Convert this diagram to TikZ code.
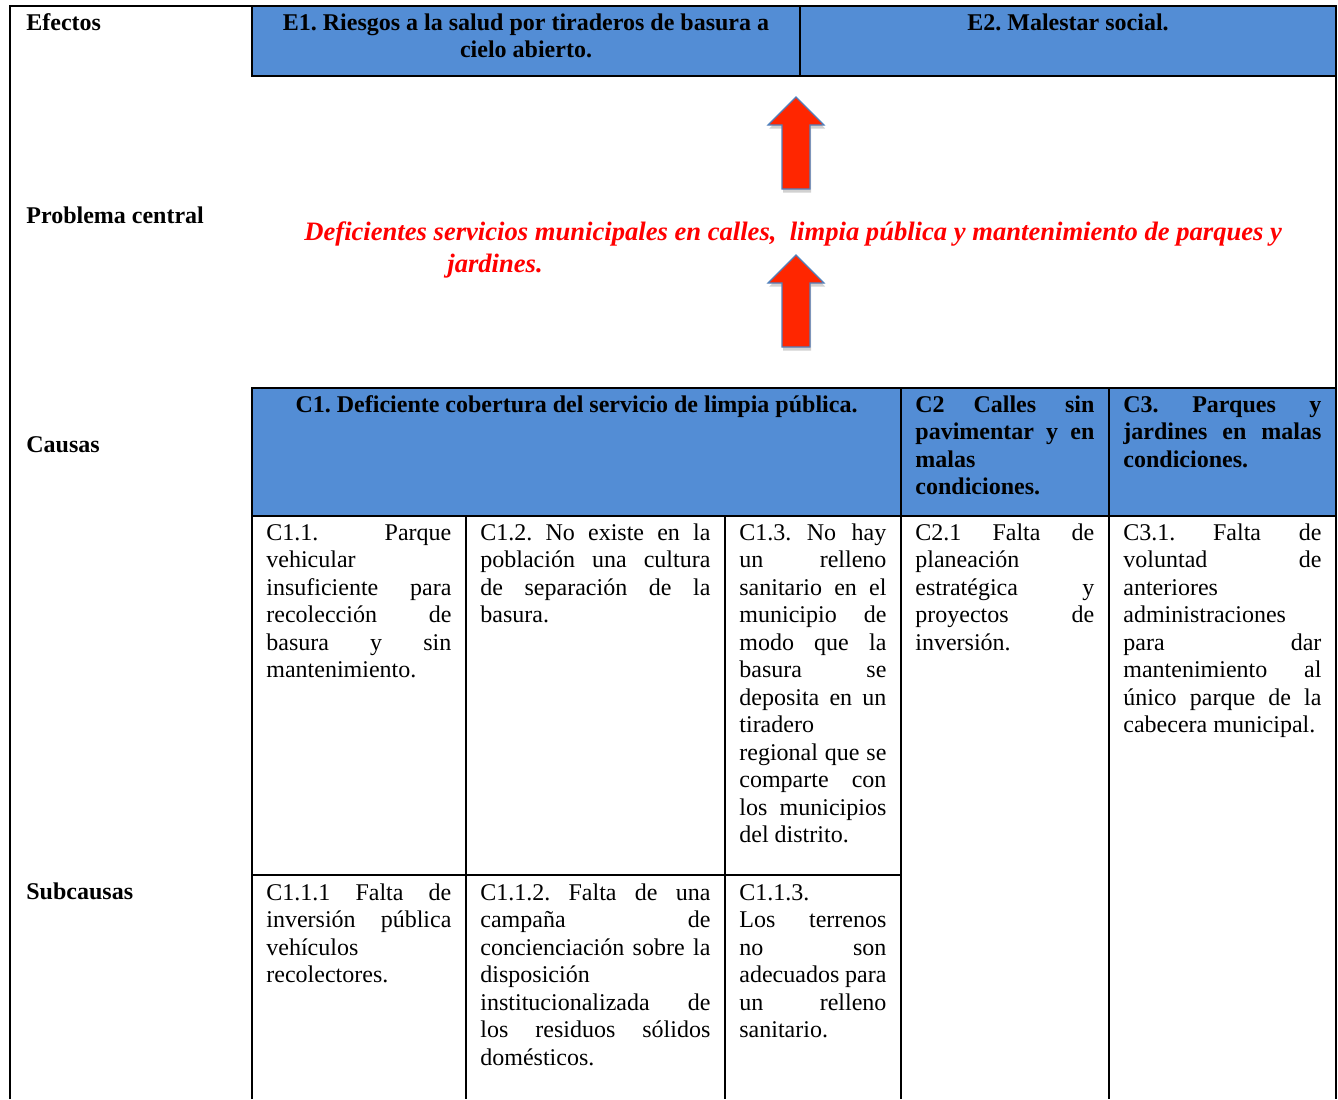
\documentclass[tikz,border=0pt]{standalone}
\usepackage{fontspec}
\setmainfont{Liberation Serif}
\usetikzlibrary{shadows}
\definecolor{cellblue}{RGB}{83,141,213}
\definecolor{arrowred}{RGB}{255,38,0}
\definecolor{arrowedge}{RGB}{79,129,189}
\definecolor{probred}{RGB}{255,0,0}
\hyphenpenalty=10000
\exhyphenpenalty=10000
\tolerance=10000
\hbadness=10000
\frenchspacing

\begin{document}
\begin{tikzpicture}[x=0.5pt, y=-0.5pt,
  grid/.style={line width=1pt, draw=black},
  head/.style={fill=cellblue},
  rowlbl/.style={anchor=base west, inner sep=0, font=\fontsize{12}{13.75}\selectfont\bfseries},
  hdr/.style={anchor=base, inner sep=0, align=center, font=\fontsize{12}{13.75}\selectfont\bfseries},
  hdrj/.style={anchor=base west, inner sep=0, align=justify, font=\fontsize{12}{13.75}\selectfont\bfseries},
  txt/.style={anchor=base west, inner sep=0, align=justify, font=\fontsize{12}{13.75}\selectfont},
  problem/.style={anchor=base west, inner sep=0, align=left, text=probred,
                  font=\fontsize{13.3}{16}\selectfont\bfseries\itshape},
  uparrow/.style={fill=arrowred, draw=arrowedge, line width=0.6pt,
                  drop shadow={shadow xshift=0.6pt, shadow yshift=-1.8pt, opacity=0.3, fill=black!60}},
]
\useasboundingbox (0,0) rectangle (1338,1099);

% ---- Blue header cells ----
\fill[head] (252,6) rectangle (1336,76);
\fill[head] (252,388) rectangle (1336,516);

% ---- Table rules ----
\draw[grid] (10,1099) -- (10,6) -- (1336,6) -- (1336,1099);
\draw[grid] (252,6) rectangle (1336,76);
\draw[grid] (800,6) -- (800,76);
\draw[grid] (252,1099) -- (252,388) -- (1336,388);
\draw[grid] (252,516) -- (1336,516);
\foreach \cx in {466,725,901,1109}
  \draw[grid] (\cx,\ifnum\cx>800 388\else 516\fi) -- (\cx,1099);
\draw[grid] (252,875) -- (901,875);

% ---- Row labels ----
\node[rowlbl] (efectos) at (26,30) {Efectos};
\node[rowlbl] (problema) at (26,223) {Problema central};
\node[rowlbl] (causas) at (26,452) {Causas};
\node[rowlbl] (subcausas) at (26,899) {Subcausas};

% ---- Effects ----
\node[hdr] (e1) at (526,57.5) {E1. Riesgos a la salud por tiraderos de basura a\\cielo abierto.};
\node[hdr] (e2) at (1068,30) {E2. Malestar social.};

% ---- Central problem and arrows ----
\node[problem] (prob) at (304,272) {Deficientes servicios municipales en calles,\ \ limpia pública y mantenimiento de parques y\\\hspace*{71.5pt}jardines.};
\foreach \ty in {97,255}
  \draw[uparrow] (796,\ty) -- ++(28,28) -- ++(-14,0) -- ++(0,64) -- ++(-28,0)
    -- ++(0,-64) -- ++(-14,0) -- cycle;

% ---- Causes ----
\node[hdr] (c1) at (576.5,412) {C1. Deficiente cobertura del servicio de limpia pública.};
\node[hdrj, text width=89.5pt] (c2) at (915,412) {C2 Calles sin\linebreak pavimentar y en\linebreak malas\linebreak condiciones.};
\node[hdrj, text width=99pt] (c3) at (1123,412) {C3. Parques y\linebreak jardines en malas\linebreak condiciones.};

\node[txt, text width=92.5pt] (c11) at (266,540) {C1.1. Parque\linebreak vehicular\linebreak insuficiente para\linebreak recolección de\linebreak basura y sin\linebreak mantenimiento.};
\node[txt, text width=115pt] (c12) at (480,540) {C1.2. No existe en la\linebreak población una cultura\linebreak de separación de la\linebreak basura.};
\node[txt, text width=73.5pt] (c13) at (739,540) {C1.3. No hay\linebreak un relleno\linebreak sanitario en el\linebreak municipio de\linebreak modo que la\linebreak basura se\linebreak deposita en un\linebreak tiradero\linebreak regional que se\linebreak comparte con\linebreak los municipios\linebreak del distrito.};
\node[txt, text width=89.5pt] (c21) at (915,540) {C2.1 Falta de\linebreak planeación\linebreak estratégica y\linebreak proyectos de\linebreak inversión.};
\node[txt, text width=99pt] (c31) at (1123,540) {C3.1. Falta de\linebreak voluntad de\linebreak anteriores\linebreak administraciones\linebreak para dar\linebreak mantenimiento al\linebreak único parque de la\linebreak cabecera municipal.};

% ---- Subcauses ----
\node[txt, text width=92.5pt] (c111) at (266,900) {C1.1.1 Falta de\linebreak inversión pública\linebreak vehículos\linebreak recolectores.};
\node[txt, text width=115pt] (c112) at (480,900) {C1.1.2. Falta de una\linebreak campaña de\linebreak concienciación sobre la\linebreak disposición\linebreak institucionalizada de\linebreak los residuos sólidos\linebreak domésticos.};
\node[txt, text width=73.5pt] (c113) at (739,900) {C1.1.3.\linebreak Los terrenos\linebreak no son\linebreak adecuados para\linebreak un relleno\linebreak sanitario.};

\end{tikzpicture}
\end{document}
